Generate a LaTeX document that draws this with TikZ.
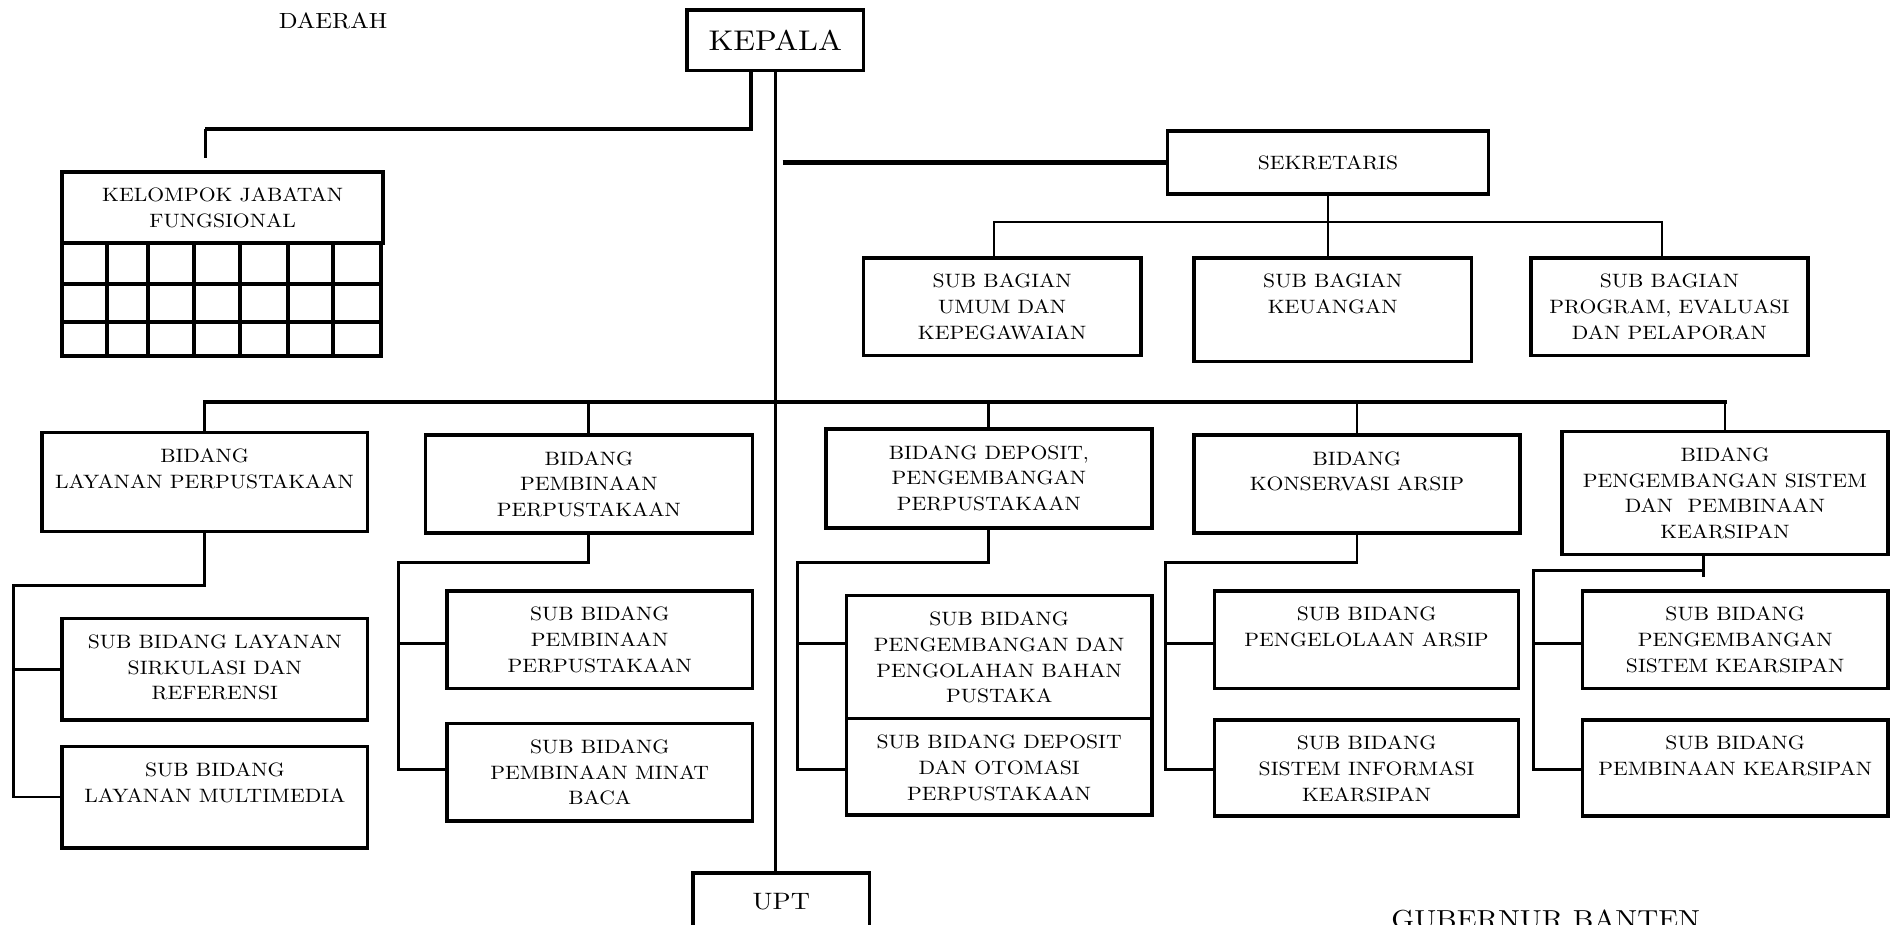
\documentclass[tikz,border=0pt]{standalone}
\usepackage{fontspec}
\setmainfont{lmroman10-regular.otf}[FakeStretch=1.12]
\usepackage{tikz}
\usetikzlibrary{calc}
\newlength{\unitpx}
\setlength{\unitpx}{0.02413cm}
\newcommand{\topbox}[3]{\parbox[c][#2\unitpx][t]{#1\unitpx}{\centering\rule{0pt}{25\unitpx}#3}}
\newcommand{\midbox}[3]{\parbox[c][#2\unitpx][c]{#1\unitpx}{\centering #3}}

\begin{document}
\begin{tikzpicture}[x=0.02413cm, y=-0.02413cm,
    orgbox/.style={draw, line width=2.1pt, inner sep=0pt, anchor=north west,
      font=\fontsize{11}{14.6}\selectfont},
    heavyline/.style={line width=2.6pt},
    busline/.style={line width=2.3pt, line cap=rect},
    link/.style={line width=1.6pt},
    thinlink/.style={line width=1.1pt},
    gridline/.style={line width=2.3pt}]
    \useasboundingbox (0,0) rectangle (1568,766);
    \fill[white] (0,0) rectangle (1568,766);
    \clip (0,0) rectangle (1568,766);

    \node[anchor=base, font=\fontsize{12.5}{15}\selectfont] (daerah) at (276,23.5) {DAERAH};
    \node[anchor=base, font=\fontsize{14.8}{18}\selectfont] (gubernur) at (1281,769.6) {GUBERNUR BANTEN};

    \node[orgbox, font=\fontsize{16.2}{19}\selectfont] (kepala) at (568,7) {\midbox{146}{50}{KEPALA}};
    \node[orgbox] (sekr) at (966,107) {\midbox{266}{52}{SEKRETARIS}};
    \node[orgbox] (kjf) at (50,141) {\midbox{266}{59}{KELOMPOK JABATAN\\FUNGSIONAL}};

    \node[orgbox] (sbumum) at (714,212) {\topbox{230}{81}{SUB BAGIAN\\UMUM DAN\\KEPEGAWAIAN}};
    \node[orgbox] (sbkeu) at (988,212) {\topbox{230}{86}{SUB BAGIAN\\KEUANGAN}};
    \node[orgbox] (sbprog) at (1267,212) {\topbox{230}{81}{SUB BAGIAN\\PROGRAM, EVALUASI\\DAN PELAPORAN}};

    \node[orgbox] (bid1) at (33,357) {\topbox{270}{82}{BIDANG\\LAYANAN PERPUSTAKAAN}};
    \node[orgbox] (bid2) at (351,359) {\topbox{271}{81}{BIDANG\\PEMBINAAN\\PERPUSTAKAAN}};
    \node[orgbox] (bid3) at (683,354) {\topbox{270}{82}{BIDANG DEPOSIT,\\PENGEMBANGAN\\PERPUSTAKAAN}};
    \node[orgbox] (bid4) at (988,359) {\topbox{270}{81}{BIDANG\\KONSERVASI ARSIP}};
    \node[orgbox] (bid5) at (1293,356) {\topbox{270}{102}{BIDANG\\PENGEMBANGAN SISTEM\\DAN\ \ PEMBINAAN\\KEARSIPAN}};

    \node[orgbox] (sb11) at (50,511) {\topbox{253}{84}{SUB BIDANG LAYANAN\\SIRKULASI DAN\\REFERENSI}};
    \node[orgbox] (sb12) at (50,617) {\topbox{253}{84}{SUB BIDANG\\LAYANAN MULTIMEDIA}};
    \node[orgbox] (sb21) at (369,488) {\topbox{253}{81}{SUB BIDANG\\PEMBINAAN\\PERPUSTAKAAN}};
    \node[orgbox] (sb22) at (369,598) {\topbox{253}{81}{SUB BIDANG\\PEMBINAAN MINAT\\BACA}};
    \node[orgbox] (sb31) at (700,492) {\topbox{253}{102}{SUB BIDANG\\PENGEMBANGAN DAN\\PENGOLAHAN BAHAN\\PUSTAKA}};
    \node[orgbox] (sb32) at (700,594) {\topbox{253}{80}{SUB BIDANG DEPOSIT\\DAN OTOMASI\\PERPUSTAKAAN}};
    \node[orgbox] (sb41) at (1005,488) {\topbox{252}{81}{SUB BIDANG\\PENGELOLAAN ARSIP}};
    \node[orgbox] (sb42) at (1005,595) {\topbox{252}{80}{SUB BIDANG\\SISTEM INFORMASI\\KEARSIPAN}};
    \node[orgbox] (sb51) at (1310,488) {\topbox{253}{81}{SUB BIDANG\\PENGEMBANGAN\\SISTEM KEARSIPAN}};
    \node[orgbox] (sb52) at (1310,595) {\topbox{253}{80}{SUB BIDANG\\PEMBINAAN KEARSIPAN}};

    \node[orgbox, font=\fontsize{13.5}{16}\selectfont] (upt) at (573,722) {\midbox{146}{48}{UPT}};

    \foreach \gx in {51,88.4,122.9,160.8,198.9,238.4,276.2,315.5}
        \draw[gridline] (\gx,200) -- (\gx,297);
    \foreach \gy in {235,267,295}
        \draw[gridline] (50,\gy) -- (316,\gy);

    \coordinate (kjfbar) at (170,107);
    \coordinate (kjfin) at (170,131);
    \draw[heavyline] ($(kepala.south)+(-20,0)$) |- (kjfbar);
    \draw[link] (kjfbar) -- (kjfin);
    \draw[link] (kepala.south) -- (kepala.south |- upt.north);
    \draw[heavyline] ($(kepala.south |- sekr.west)+(6,0)$) -- (sekr.west);

    \coordinate (sbar) at (824,184);
    \coordinate (sbarend) at (1377,184);
    \draw[thinlink] (sekr.south) -- (sekr.south |- sbkeu.north);
    \draw[thinlink] (sbar |- sbumum.north) -- (sbar) -- (sbarend) -- (sbarend |- sbprog.north);

    \coordinate (bus) at (0,333);
    \draw[busline] (bid1.north |- bus) -- (bid5.north |- bus);
    \foreach \b in {bid1,bid2,bid3,bid4,bid5}
        \draw[link] (\b.north |- bus) -- (\b.north);

    \coordinate (rail1) at (11,485);
    \draw[link] (bid1.south) |- (rail1) |- (sb12.west);
    \draw[link] (rail1 |- sb11.west) -- (sb11.west);

    \coordinate (br1) at (0,533);
    \coordinate (br2) at (0,638);
    \coordinate (rail2) at (330,466);
    \coordinate (rail3) at (661,466);
    \coordinate (rail4) at (966,466);
    \foreach \c in {2,3,4} {
        \draw[link] (bid\c.south) |- (rail\c) |- (sb\c2.west |- br2);
        \draw[link] (rail\c |- br1) -- (sb\c1.west |- br1);
    }

    \coordinate (drop5) at (1412,478);
    \coordinate (rail5) at (1271,473);
    \draw[link] (bid5.south -| drop5) -- (drop5);
    \draw[link] (drop5 |- rail5) -- (rail5) |- (sb52.west |- br2);
    \draw[link] (rail5 |- br1) -- (sb51.west |- br1);
\end{tikzpicture}
\end{document}
